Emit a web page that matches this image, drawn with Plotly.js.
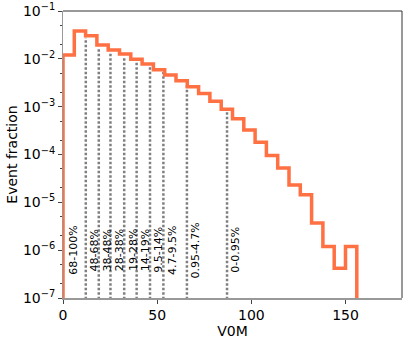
<!DOCTYPE html>
<html>
<head>
<meta charset="utf-8">
<script src="https://cdn.plot.ly/plotly-3.0.1.min.js"></script>
<style>
    html, body { margin: 0; padding: 0; background: #fff; }
    #plot { width: 407px; height: 342px; }
</style>
</head>
<body>
<div id="plot"></div>
<script>
// histogram bins (V0M), left edges + last right edge
const bin_edges = [0, 6, 12, 18, 24, 30, 36, 42, 48, 54, 60, 66, 72, 78, 84, 90,
                   96, 102, 108, 114, 120, 126, 132, 138, 144, 150, 156];
const event_fraction = [1.2e-2, 3.8e-2, 3.05e-2, 1.95e-2, 1.53e-2, 1.26e-2, 9.8e-3, 7.8e-3,
                        5.9e-3, 4.6e-3, 3.5e-3, 2.6e-3, 1.88e-3, 1.3e-3, 8.8e-4, 5.6e-4,
                        3.25e-4, 1.8e-4, 9.5e-5, 5.2e-5, 2.3e-5, 1.44e-5, 3.7e-6, 1.2e-6,
                        4.2e-7, 1.2e-6];

// centrality class boundaries and labels
const class_cuts = [12.1, 19.0, 25.2, 32.5, 39.1, 46.2, 53.3, 65.8, 87.1];
const class_labels = ["68-100%", "48-68%", "38-48%", "28-38%", "19-28%", "14-19%",
                      "9.5-14%", "4.7-9.5%", "0.95-4.7%", "0-0.95%"];

const y_tick_vals = [1e-7, 1e-6, 1e-5, 1e-4, 1e-3, 1e-2, 1e-1];
const y_tick_text = ["10<sup>−7</sup>", "10<sup>−6</sup>", "10<sup>−5</sup>", "10<sup>−4</sup>",
                     "10<sup>−3</sup>", "10<sup>−2</sup>", "10<sup>−1</sup>"];

const floor = 1e-9;
const font = "DejaVu Sans, sans-serif";

function value_at(x)
{
    for (let i = 0; i < event_fraction.length; i++)
        if (x >= bin_edges[i] && x < bin_edges[i + 1]) return event_fraction[i];
    return floor;
}

// step line
let hx = [bin_edges[0]], hy = [floor];
for (let i = 0; i < event_fraction.length; i++)
{
    hx.push(bin_edges[i]);
    hy.push(event_fraction[i]);
}
let last = bin_edges[bin_edges.length - 1];
hx.push(last, last);
hy.push(event_fraction[event_fraction.length - 1], floor);

// dotted boundaries
let dx = [], dy = [];
for (let c of class_cuts)
{
    dx.push(c, c, null);
    dy.push(floor, value_at(c) * 0.9, null);
}

let traces = [
    {
        x: dx, y: dy, mode: "lines", type: "scatter", hoverinfo: "skip",
        line: { color: "#7f7f7f", width: 2.5, dash: "2.5px,2px" },
    },
    {
        x: hx, y: hy, mode: "lines", type: "scatter", line: { color: "#ff7043", width: 3.5, shape: "hv" },
    },
];

let label_x = [0].concat(class_cuts);
let annotations = class_labels.map((text, i) => ({
    x: label_x[i], y: -6, xref: "x", yref: "y",
    text: text, textangle: -90, showarrow: false,
    xanchor: "left", yanchor: "middle", xshift: i == 0 ? 2 : 0,
    font: { family: font, size: 11, color: "#000" },
}));

let layout = {
    width: 407, height: 342,
    margin: { l: 63, r: 5, t: 11, b: 44 },
    paper_bgcolor: "#fff", plot_bgcolor: "#fff",
    showlegend: false,
    font: { family: font, size: 14, color: "#000" },
    xaxis: {
        range: [0, 180], tickvals: [0, 50, 100, 150],
        ticks: "outside", ticklen: 4, tickcolor: "#444",
        showgrid: false, zeroline: false,
        showline: true, linecolor: "#999", linewidth: 1.5,
        title: { text: "V0M", standoff: 4, font: { family: font, size: 14 } },
    },
    yaxis: {
        type: "log", range: [-7, -1],
        tickvals: y_tick_vals, ticktext: y_tick_text,
        ticks: "outside", ticklen: 4, tickcolor: "#444",
        minor: { ticks: "outside", ticklen: 2, tickcolor: "#444", showgrid: false },
        showgrid: false, zeroline: false,
        showline: true, linecolor: "#999", linewidth: 1,
        title: { text: "Event fraction", standoff: 2, font: { family: font, size: 14 } },
    },
    shapes: [
        { type: "line", xref: "paper", yref: "paper", x0: 0, x1: 1, y0: 1, y1: 1, line: { color: "#333", width: 1 } },
        { type: "line", xref: "paper", yref: "paper", x0: 1, x1: 1, y0: 0, y1: 1, line: { color: "#333", width: 1 } },
    ],
    annotations: annotations,
};

Plotly.newPlot("plot", traces, layout, { staticPlot: true });
</script>
</body>
</html>
